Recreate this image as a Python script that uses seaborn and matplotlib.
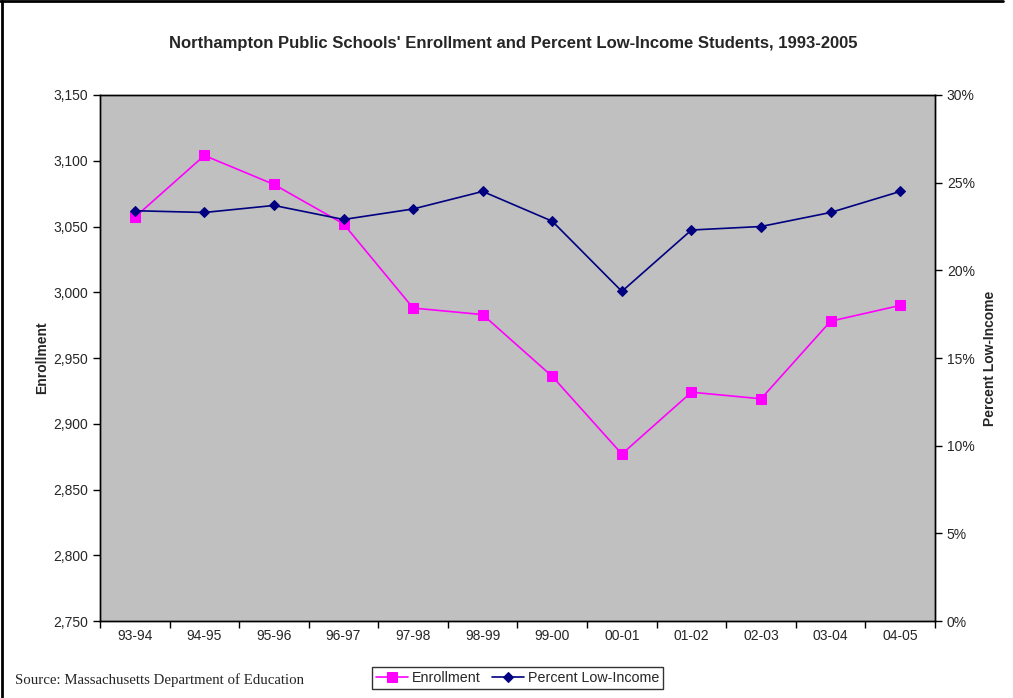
import matplotlib
matplotlib.use("Agg")
import matplotlib.pyplot as plt
import matplotlib.ticker as mticker
import seaborn as sns
import pandas as pd

# values
years = ["93-94", "94-95", "95-96", "96-97", "97-98", "98-99",
         "99-00", "00-01", "01-02", "02-03", "03-04", "04-05"]
enrollment = [3057, 3104, 3082, 3052, 2988, 2983, 2936, 2877, 2924, 2919, 2978, 2990]
low_income = [23.4, 23.3, 23.7, 22.9, 23.5, 24.5, 22.8, 18.8, 22.3, 22.5, 23.3, 24.5]

df = pd.DataFrame({"year": years, "Enrollment": enrollment, "LowIncome": low_income})
df["x"] = range(len(years))

sns.set_theme(style="white")
plt.rcParams["font.family"] = ["Liberation Sans", "DejaVu Sans"]

fig = plt.figure(figsize=(10.13, 6.98), dpi=100)
ax = fig.add_axes([0.0987, 0.1103, 0.8243, 0.7536])
ax.set_facecolor("#c0c0c0")
ax2 = ax.twinx()

sns.lineplot(data=df, x="x", y="Enrollment", ax=ax, color="#ff00ff", lw=1.2,
             marker="s", markersize=7, markeredgecolor="#ff00ff", label="Enrollment", legend=False)
sns.lineplot(data=df, x="x", y="LowIncome", ax=ax2, color="#000080", lw=1.2,
             marker="D", markersize=5, markeredgecolor="#000080", label="Percent Low-Income", legend=False)

ax.set_xlim(-0.5, len(years) - 0.5)
ax.set_ylim(2750, 3150)
ax2.set_ylim(0, 30)

ax.set_yticks(range(2750, 3151, 50))
ax.yaxis.set_major_formatter(mticker.StrMethodFormatter("{x:,.0f}"))
ax2.set_yticks(range(0, 31, 5))
ax2.yaxis.set_major_formatter(mticker.FuncFormatter(lambda v, p: f"{v:.0f}%"))

# category ticks between labels, labels centered
ax.set_xticks([i - 0.5 for i in range(len(years) + 1)])
ax.set_xticklabels([])
ax.set_xticks(list(range(len(years))), minor=True)
ax.set_xticklabels(years, minor=True)
ax.tick_params(axis="x", which="major", direction="out", length=5, width=1, color="black", bottom=True)
ax.tick_params(axis="x", which="minor", length=0, labelsize=10, pad=6)
ax.tick_params(axis="y", direction="out", length=5, width=1, color="black", left=True, labelsize=10)
ax2.tick_params(axis="y", direction="out", length=5, width=1, color="black", right=True, labelsize=10)

for a in (ax, ax2):
    for s in a.spines.values():
        s.set_color("black")
        s.set_linewidth(1)
ax.grid(False)
ax2.grid(False)

ax.set_xlabel("")
ax.set_ylabel("Enrollment", fontsize=10, fontweight="bold", labelpad=3)
ax2.set_ylabel("Percent Low-Income", fontsize=10, fontweight="bold", labelpad=6)

fig.text(0.507, 0.937, "Northampton Public Schools' Enrollment and Percent Low-Income Students, 1993-2005",
         ha="center", va="center", fontsize=12, fontweight="bold")
fig.text(0.015, 0.025, "Source: Massachusetts Department of Education", ha="left", va="center",
         fontsize=10.7, family=["Liberation Serif", "DejaVu Serif"])

h1, l1 = ax.get_legend_handles_labels()
h2, l2 = ax2.get_legend_handles_labels()
leg = fig.legend(h1 + h2, l1 + l2, loc="center", bbox_to_anchor=(0.511, 0.0287), ncol=2,
                 frameon=True, fancybox=False, edgecolor="black", fontsize=10.3,
                 handlelength=2.2, columnspacing=0.8, handletextpad=0.3, borderpad=0.3)
leg.get_frame().set_linewidth(1)

# chart border, visible on top and left only
fig.add_artist(plt.Line2D([0.002, 0.002], [0.0, 0.998], transform=fig.transFigure, color="black", lw=2))
fig.add_artist(plt.Line2D([0.0, 0.99], [0.998, 0.998], transform=fig.transFigure, color="black", lw=2))

fig.savefig("out.png", dpi=100)
